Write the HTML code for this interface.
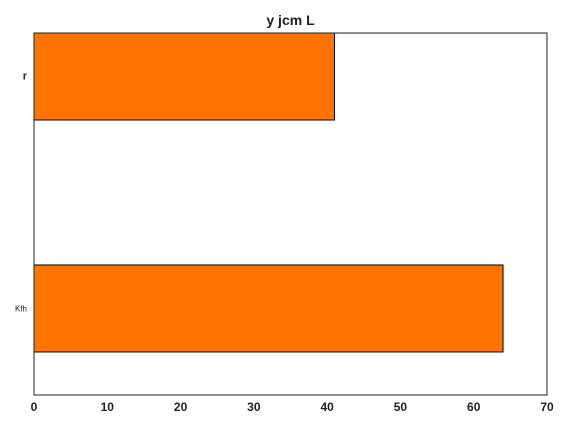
<!DOCTYPE html>
<html><head><meta charset="utf-8"><style>
html,body{margin:0;padding:0;background:#fff;}
svg{display:block;font-family:"Liberation Sans",sans-serif;}
</style></head><body>
<svg id="chart" width="568" height="426"></svg>
<script>
const categories = ["Kfh", "r"];
const values = [64, 41];
const xTicks = [0, 10, 20, 30, 40, 50, 60, 70];
const labelSizes = [8, 11];
const labelWeights = ["normal", "bold"];

const svg = document.getElementById('chart');
const NS = 'http://www.w3.org/2000/svg';
const L = 34, R = 547, T = 33, B = 395;
const xMin = 0, xMax = 70, yMin = -0.373, yMax = 1.1875, barH = 0.375;
const xs = v => L + (v - xMin) / (xMax - xMin) * (R - L);
const ys = v => B - (v - yMin) / (yMax - yMin) * (B - T);
function mk(tag, attrs) { const e = document.createElementNS(NS, tag); for (const k in attrs) e.setAttribute(k, attrs[k]); svg.appendChild(e); return e; }

categories.forEach((c, i) => {
  const y0 = ys(i + barH / 2), y1 = ys(i - barH / 2);
  const r = mk('rect', {x: xs(0), y: y0, width: xs(values[i]) - xs(0), height: y1 - y0, fill: '#ff7400', stroke: '#000', 'stroke-width': 1});
  
  
  const t = mk('text', {x: L - 7, y: ys(i) + 3, 'text-anchor': 'end', 'font-size': labelSizes[i], 'font-weight': labelWeights[i], fill: '#222'});
  t.textContent = c;
  
  
});

const frame = mk('rect', {x: L, y: T, width: R - L, height: B - T, fill: 'none', stroke: '#222', 'stroke-width': 1});



xTicks.forEach(v => {
  const t = mk('text', {x: xs(v), y: 411, 'text-anchor': 'middle', 'font-size': 12, 'font-weight': 'bold', fill: '#222'});
  t.textContent = v;
  
  
});

const title = mk('text', {x: (L + R) / 2, y: 25, 'text-anchor': 'middle', 'font-size': 14, 'font-weight': 'bold', fill: '#222'});
title.textContent = 'y jcm L';


</script>
</body></html>
